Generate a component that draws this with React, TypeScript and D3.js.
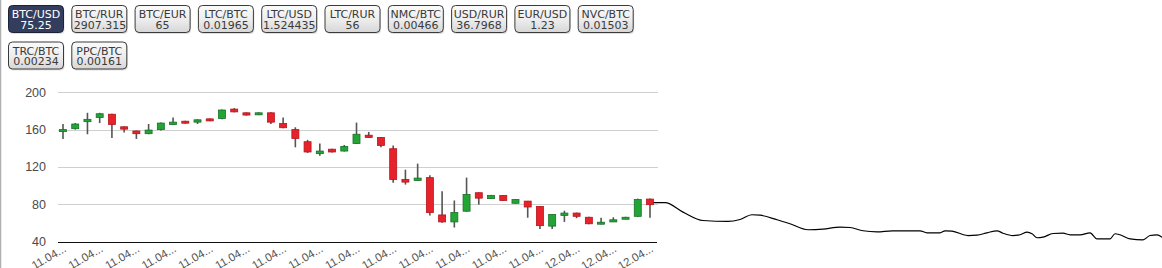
import React from "react";
import * as d3 from "d3";

// Currency pair selector
const pairNames = ["BTC/USD", "BTC/RUR", "BTC/EUR", "LTC/BTC", "LTC/USD", "LTC/RUR", "NMC/BTC", "USD/RUR", "EUR/USD", "NVC/BTC", "TRC/BTC", "PPC/BTC"];
const pairPrices = ["75.25", "2907.3155", "65", "0.01965", "1.524435", "56", "0.00466", "36.7968", "1.23", "0.01503", "0.00234", "0.00161"];
const activePair = 0;

// BTC/USD candles
const opens = [158.5, 161, 168.5, 173, 176.5, 163, 158.5, 155.6, 160, 165.5, 169, 168, 171.5, 172, 182, 178, 176, 178, 166.5, 160, 147, 134.2, 139, 137, 145, 154, 151.5, 139.5, 106.6, 105.5, 108.5, 68.5, 61, 72.5, 92.3, 86, 89.4, 81, 83.3, 77.5, 56.5, 68, 70.5, 66, 59, 61, 64.5, 67, 85.5];
const closes = [160, 166, 171, 177, 165.5, 160.5, 155.6, 159.5, 167, 168, 167, 170.5, 169.5, 181, 179, 175.6, 178, 168, 162, 150.5, 136, 137, 136, 142, 155, 151.5, 143, 106.5, 103.7, 108, 71, 61, 71, 90.5, 86.5, 89.5, 84, 85, 77, 57, 69, 70.5, 67, 59, 60.7, 63.3, 66, 85, 79.5];
const highs = [166, 167, 178, 178, 177, 163.5, 159, 166, 167.5, 173, 169.5, 171, 172, 181.5, 183, 178.5, 178.5, 178.5, 173, 162.5, 149, 145, 139.5, 143.5, 167.5, 157.5, 152, 143, 117, 123.5, 111, 94, 84, 108.5, 92.5, 90, 89.5, 85.5, 83.5, 78, 69.5, 73, 71, 66.5, 65.5, 66, 66.5, 86, 86];
const lows = [150, 160, 155, 167, 151, 157, 150, 155, 159, 165, 166.5, 166, 169, 171, 178.5, 175, 175.5, 166, 161.5, 141, 135, 132, 135.5, 136.5, 144.5, 151, 141, 103, 101, 105, 68, 60, 55, 72, 79.5, 85.5, 83.5, 80.5, 65.5, 53.5, 53.5, 61, 65, 58.5, 58.5, 61, 64, 66.5, 65.5];

// Price line trailing past the last candle (position in candle steps, price)
const tailPositions = [48, 48.41, 49.23, 50.7, 52.33, 54.38, 55.36, 56.34, 57.0, 58.39, 59.45, 60.92, 62.15, 63.54, 64.36, 65.42, 66.57, 67.79, 70.08, 70.65, 71.72, 72.13, 72.7, 74.0, 74.74, 75.56, 76.37, 76.87, 77.68, 78.26, 78.83, 79.24, 79.65, 80.14, 80.95, 81.77, 82.35, 83.16, 83.98, 84.55, 85.62, 86.03, 86.43, 87.25, 88.31, 88.89, 89.46, 89.87];
const tailValues = [81.6, 81.6, 81.6, 71.5, 62.5, 61.5, 63.6, 68.7, 68.2, 63.3, 59.0, 52.6, 53.2, 55.4, 55.0, 51.5, 50.4, 51.5, 51.5, 49.3, 49.3, 51.5, 51.1, 46.4, 46.8, 49.3, 51.5, 48.9, 46.4, 47.2, 50.0, 48.3, 44.0, 44.6, 48.6, 48.9, 47.2, 47.2, 49.3, 42.9, 42.9, 48.3, 47.2, 42.9, 41.8, 46.4, 47.2, 44.6];

// Axis ticks
const yTicks = [40, 80, 120, 160, 200];
const xTickLabels = ["11.04...", "11.04...", "11.04...", "11.04...", "11.04...", "11.04...", "11.04...", "11.04...", "11.04...", "11.04...", "11.04...", "11.04...", "11.04...", "11.04...", "12.04...", "12.04...", "12.04..."];
const xTickEvery = 3;

const W = 1162;
const H = 268;
const plotLeft = 58;
const plotRight = 658;

const x = d3.scaleLinear().domain([0, opens.length - 1]).range([63, 650]);
const y = d3.scaleLinear().domain([40, 200]).range([241.5, 92.3]);

const UP_FILL = "#22a535";
const UP_STROKE = "#17702a";
const DOWN_FILL = "#e8222a";
const DOWN_STROKE = "#b3161c";

function PairButton({ i }: { i: number }) {
  const col = i % 10;
  const row = Math.floor(i / 10);
  const bx = 8.5 + col * 63.3;
  const by = 5.5 + row * 36.5;
  const bw = 55;
  const bh = 27;
  const active = i === activePair;
  const clipId = `clip-btn-${i}`;
  return (
    <g>
      <clipPath id={clipId}>
        <rect x={bx + 1} y={by} width={bw - 2} height={bh} />
      </clipPath>
      <rect x={bx + 1} y={by + 1.5} width={bw} height={bh} rx={4} fill="#000" opacity={0.12} />
      <rect
        x={bx}
        y={by}
        width={bw}
        height={bh}
        rx={4}
        fill={active ? "#333d5e" : "url(#btnGrad)"}
        stroke={active ? "#1c2238" : "#3a3a3a"}
        strokeWidth={1}
      />
      <g clipPath={`url(#${clipId})`} fontFamily="'DejaVu Sans', Verdana, sans-serif" fontSize={11} fill={active ? "#ffffff" : "#3a3a3a"}>
        <text x={bx + bw / 2} y={by + 12.5} textAnchor="middle">{pairNames[i]}</text>
        <text
          x={pairPrices[i].length > 8 ? bx + 2 : bx + bw / 2}
          y={by + 23}
          textAnchor={pairPrices[i].length > 8 ? "start" : "middle"}
        >
          {pairPrices[i]}
        </text>
      </g>
    </g>
  );
}

export default function App() {
  const line = d3
    .line<number>()
    .x((_, k) => x(tailPositions[k]))
    .y((v) => y(v))
    .curve(d3.curveMonotoneX);

  return (
    <div style={{ position: "absolute", left: 0, top: 0, width: W, height: H, background: "#fff" }}>
      <svg width={W} height={H} style={{ display: "block" }}>
        <defs>
          <linearGradient id="btnGrad" x1="0" y1="0" x2="0" y2="1">
            <stop offset="0%" stopColor="#fbfbfb" />
            <stop offset="55%" stopColor="#ececec" />
            <stop offset="100%" stopColor="#d6d6d6" />
          </linearGradient>
        </defs>

        <line x1={0.5} x2={0.5} y1={0} y2={H} stroke="#b0b0b0" strokeWidth={1.5} />

        {pairNames.map((_, i) => (
          <PairButton key={i} i={i} />
        ))}

        {/* grid and y labels */}
        {yTicks.map((t) => (
          <g key={t}>
            <line
              x1={plotLeft}
              x2={t === 40 ? plotRight - 1 : plotRight}
              y1={Math.round(y(t)) + 0.5}
              y2={Math.round(y(t)) + 0.5}
              stroke={t === 40 ? "#111" : "#cfcfcf"}
              strokeWidth={1}
            />
            <text
              x={46}
              y={y(t) + 4.5}
              textAnchor="end"
              fontFamily="'Liberation Sans', Arial, sans-serif"
              fontSize={12.5}
              fill="#4a4a4a"
            >
              {t}
            </text>
          </g>
        ))}

        {/* x labels */}
        {xTickLabels.map((lab, k) => {
          const tx = x(k * xTickEvery) + 4;
          return (
            <text
              key={k}
              transform={`translate(${tx},${251}) rotate(-30)`}
              textAnchor="end"
              fontFamily="'Liberation Sans', Arial, sans-serif"
              fontSize={11.5}
              fill="#555"
            >
              {lab}
            </text>
          );
        })}

        {/* trailing price line */}
        <path d={line(tailValues) || ""} fill="none" stroke="#000" strokeWidth={1.2} />

        {/* candles */}
        {opens.map((o, i) => {
          const c = closes[i];
          const up = c >= o;
          const cx = x(i);
          const top = y(Math.max(o, c));
          const bot = y(Math.min(o, c));
          const bodyH = Math.max(bot - top, 2);
          return (
            <g key={i}>
              <line x1={cx} x2={cx} y1={y(highs[i])} y2={y(lows[i])} stroke="#555" strokeWidth={1.6} />
              <rect
                x={cx - 3.5}
                y={top}
                width={7}
                height={bodyH}
                fill={up ? UP_FILL : DOWN_FILL}
                stroke={up ? UP_STROKE : DOWN_STROKE}
                strokeWidth={0.8}
              />
            </g>
          );
        })}
      </svg>
    </div>
  );
}
